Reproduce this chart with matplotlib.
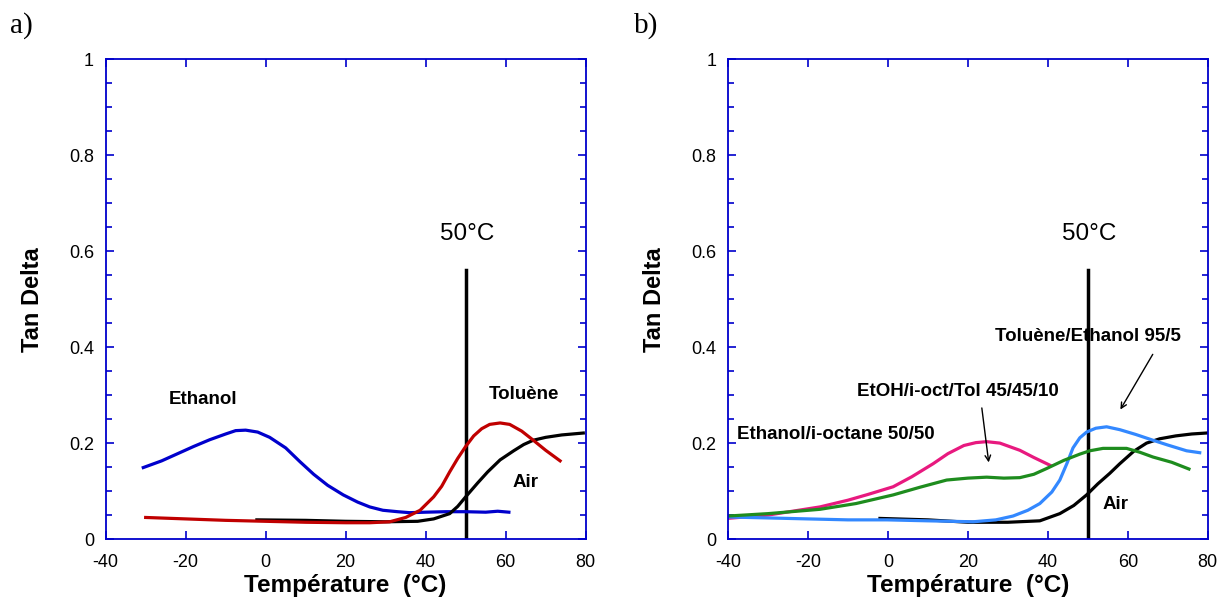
import matplotlib.pyplot as plt
from matplotlib.ticker import MultipleLocator

plt.rcParams['font.family'] = ['Liberation Sans', 'DejaVu Sans']
plt.rcParams['axes.unicode_minus'] = False

# panel a : tan delta vs temperature
eth_x = [-30.6, -26, -22, -18, -14, -10, -7.5, -5, -2, 1, 5, 8.6, 12, 15.5, 19.4, 23, 26, 29.3, 33, 36, 40, 45, 50, 55, 58, 60.8]
eth_y = [0.149, 0.163, 0.178, 0.193, 0.207, 0.219, 0.226, 0.227, 0.223, 0.212, 0.190, 0.161, 0.135, 0.112, 0.092, 0.077, 0.067, 0.060, 0.057, 0.055, 0.056, 0.057, 0.057, 0.056, 0.058, 0.056]
tol_x = [-30, -20, -10, 0, 10, 20, 26, 31, 35, 38.6, 42, 44, 46, 48, 50, 52, 54, 56, 58.6, 61, 64, 66.9, 70, 73.6]
tol_y = [0.045, 0.042, 0.039, 0.037, 0.035, 0.034, 0.034, 0.036, 0.045, 0.060, 0.088, 0.110, 0.140, 0.168, 0.193, 0.215, 0.230, 0.239, 0.242, 0.239, 0.225, 0.206, 0.185, 0.163]
aira_x = [-2.2, 10, 20, 30, 38, 42, 46, 48, 50.2, 53, 55.5, 58.6, 62, 64.5, 66.9, 70, 74, 79.4]
aira_y = [0.040, 0.039, 0.037, 0.036, 0.037, 0.042, 0.053, 0.068, 0.090, 0.117, 0.140, 0.165, 0.184, 0.197, 0.206, 0.212, 0.217, 0.221]

# panel b
eio_x = [-40.3, -30, -17, -10, -5, 1.3, 6, 11.3, 15, 19, 22, 24.7, 28, 31, 33, 36.5, 40.5]
eio_y = [0.043, 0.050, 0.067, 0.081, 0.093, 0.109, 0.130, 0.157, 0.178, 0.195, 0.201, 0.203, 0.200, 0.191, 0.185, 0.170, 0.154]
mix_x = [-40, -30, -17, -8, 1.3, 8, 14.7, 20, 24.7, 29, 33, 36.5, 39.7, 44, 48, 50.5, 53.8, 59.7, 63, 66.3, 71, 75.3]
mix_y = [0.048, 0.053, 0.062, 0.074, 0.092, 0.108, 0.123, 0.127, 0.129, 0.127, 0.128, 0.135, 0.147, 0.164, 0.177, 0.184, 0.189, 0.189, 0.181, 0.171, 0.160, 0.146]
te_x = [-40, -30, -20, -10, -0.3, 10, 21.3, 27, 31.3, 35, 38, 41, 43, 44.8, 46.3, 48, 49.7, 52, 54.7, 58, 62, 66.3, 70, 74.7, 78]
te_y = [0.046, 0.044, 0.042, 0.040, 0.040, 0.038, 0.036, 0.040, 0.048, 0.060, 0.074, 0.098, 0.123, 0.158, 0.190, 0.211, 0.223, 0.231, 0.234, 0.228, 0.218, 0.206, 0.196, 0.184, 0.180]
airb_x = [-2, 10, 20, 30, 38, 43, 46.5, 49.7, 52.5, 55.5, 58, 61.5, 64.7, 68, 72, 76, 79.7]
airb_y = [0.043, 0.040, 0.035, 0.035, 0.038, 0.053, 0.070, 0.092, 0.115, 0.137, 0.157, 0.183, 0.200, 0.209, 0.215, 0.219, 0.221]

spine_col = '#0000CC'
lw = 2.3

fig = plt.figure(figsize=(12.23, 6.05), dpi=100)
ax1 = fig.add_axes([0.0864, 0.109, 0.3925, 0.793])
ax2 = fig.add_axes([0.5953, 0.109, 0.3922, 0.793])


def style(ax):
    ax.set_xlim(-40, 80)
    ax.set_ylim(0, 1)
    ax.xaxis.set_major_locator(MultipleLocator(20))
    ax.yaxis.set_minor_locator(MultipleLocator(0.05))
    ax.set_yticks([0, 0.2, 0.4, 0.6, 0.8, 1])
    ax.set_yticklabels(['0', '0.2', '0.4', '0.6', '0.8', '1'])
    ax.tick_params(which='both', direction='in', top=True, right=True,
                   color=spine_col, labelsize=13, labelcolor='black', width=1.2)
    ax.tick_params(which='major', length=6)
    ax.tick_params(which='minor', length=4)
    ax.tick_params(axis='x', pad=11)
    ax.tick_params(axis='y', pad=8.4)
    for s in ax.spines.values():
        s.set_color(spine_col)
        s.set_linewidth(1.3)
    ax.text(0.5, -0.11, 'Température  (°C)', transform=ax.transAxes,
            fontsize=17.5, fontweight='bold', ha='center', va='baseline')
    ax.text(-0.153, 0.5, 'Tan Delta', transform=ax.transAxes, rotation=90,
            fontsize=17, fontweight='bold', ha='center', va='center')
    ax.plot([50, 50], [0, 0.56], color='black', lw=2.5)
    ax.text(50.3, 0.635, '50°C', fontsize=17.5, ha='center', va='center')


style(ax1)
ax1.plot(eth_x, eth_y, color='#0000CC', lw=lw)
ax1.plot(aira_x, aira_y, color='black', lw=lw)
ax1.plot(tol_x, tol_y, color='#C00000', lw=lw)
ax1.text(-24.2, 0.29, 'Ethanol', fontsize=13.5, fontweight='bold', va='center')
ax1.text(55.8, 0.302, 'Toluène', fontsize=13.5, fontweight='bold', va='center')
ax1.text(61.8, 0.117, 'Air', fontsize=13.5, fontweight='bold', va='center')

style(ax2)
ax2.plot(airb_x, airb_y, color='black', lw=lw)
ax2.plot(eio_x, eio_y, color='#E8197F', lw=lw)
ax2.plot(te_x, te_y, color='#3388FF', lw=lw)
ax2.plot(mix_x, mix_y, color='#1E8C1E', lw=lw)
ax2.text(-37.8, 0.217, 'Ethanol/i-octane 50/50', fontsize=13.5, fontweight='bold', va='center')
ax2.text(-7.8, 0.307, 'EtOH/i-oct/Tol 45/45/10', fontsize=13.5, fontweight='bold', va='center')
ax2.text(26.75, 0.423, 'Toluène/Ethanol 95/5', fontsize=13.5, fontweight='bold', va='center')
ax2.text(53.7, 0.071, 'Air', fontsize=13.5, fontweight='bold', va='center')
ax2.annotate('', xy=(25.3, 0.154), xytext=(23.4, 0.279),
             arrowprops=dict(arrowstyle='->', color='black', lw=1))
ax2.annotate('', xy=(57.8, 0.265), xytext=(66.6, 0.39),
             arrowprops=dict(arrowstyle='->', color='black', lw=1))

fig.text(0.008, 0.957, 'a)', fontsize=21, family='Liberation Serif', va='center')
fig.text(0.518, 0.957, 'b)', fontsize=21, family='Liberation Serif', va='center')

fig.savefig('out.png', dpi=100)
